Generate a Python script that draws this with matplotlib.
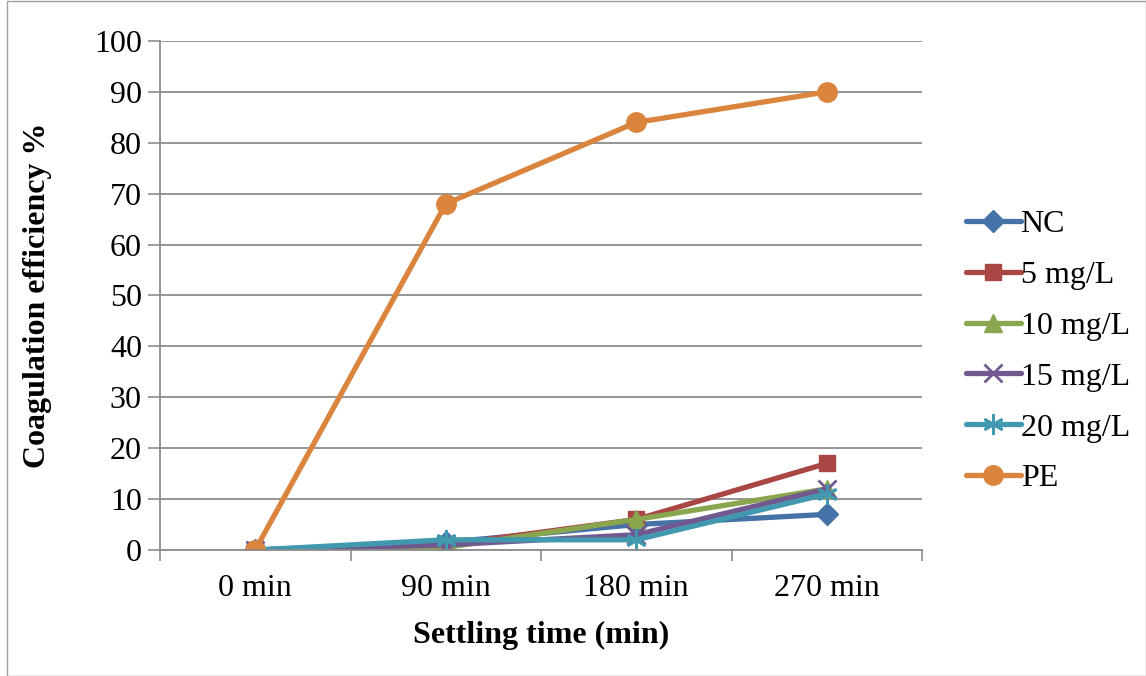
import matplotlib
matplotlib.use("Agg")
import matplotlib.pyplot as plt
from matplotlib.ticker import FixedLocator, NullFormatter

categories = ["0 min", "90 min", "180 min", "270 min"]
series_names = ["NC", "5 mg/L", "10 mg/L", "15 mg/L", "20 mg/L", "PE"]
nc = [0, 1.5, 5, 7]
mg5 = [0, 1, 6, 17]
mg10 = [0, 0.5, 6, 12]
mg15 = [0, 1, 3, 12]
mg20 = [0, 2, 2, 11]
pe = [0, 68, 84, 90]

plt.rcParams['font.family'] = ['Liberation Serif', 'DejaVu Serif']

fig = plt.figure(figsize=(11.46, 6.76), dpi=100)
ax = fig.add_axes([0.1396, 0.1864, 0.665, 0.753])

styles = [
    ("#4572A7", "D", 11),
    ("#AA4643", "s", 12),
    ("#89A54E", "^", 13),
    ("#71588F", "x", 13),
    ("#4198AF", (6, 2, 0), 15),
    ("#DB843D", "o", 14),
]
data = [nc, mg5, mg10, mg15, mg20, pe]
x = list(range(len(categories)))
for name, vals, (c, m, ms) in zip(series_names, data, styles):
    kw = dict(markeredgewidth=2) if m in ("x",) or isinstance(m, tuple) else {}
    ax.plot(x, vals, color=c, lw=3.8, marker=m, markersize=ms, label=name,
            markerfacecolor=c, markeredgecolor=c, solid_capstyle='round', **kw)

ax.set_xlim(-0.5, 3.5)
ax.set_ylim(0, 100)
ax.set_yticks(range(0, 101, 10))
ax.yaxis.grid(True, color="#8c8c8c", lw=1.3)
ax.set_axisbelow(True)
ax.xaxis.set_major_locator(FixedLocator([-0.5, 0.5, 1.5, 2.5, 3.5]))
ax.xaxis.set_major_formatter(NullFormatter())
ax.xaxis.set_minor_locator(FixedLocator(x))
ax.set_xticklabels(categories, minor=True)
ax.tick_params(axis='x', which='minor', length=0, labelsize=23, pad=17)
ax.tick_params(axis='x', which='major', length=8, color="#8c8c8c", width=1.2)
ax.tick_params(axis='y', length=9, color="#8c8c8c", width=1.2, labelsize=23, pad=4)
for s in ["top", "right"]:
    ax.spines[s].set_visible(False)
for s in ["left", "bottom"]:
    ax.spines[s].set_color("#8c8c8c")
    ax.spines[s].set_linewidth(1.3)

ax.set_xlabel("Settling time (min)", fontsize=23, fontweight='bold', labelpad=13)
ax.set_ylabel("Coagulation efficiency %", fontsize=23, fontweight='bold', labelpad=30)

leg = ax.legend(loc='center left', bbox_to_anchor=(1.058, 0.39), frameon=False,
                fontsize=23, handlelength=1.7, handletextpad=0.0, labelspacing=0.675,
                borderaxespad=0, borderpad=0)

border = plt.Rectangle((0.006, 0.0), 0.994, 0.998, transform=fig.transFigure,
                       fill=False, edgecolor="#a0a0a0", lw=1)
fig.patches.append(border)

fig.savefig("out.png", dpi=100)
